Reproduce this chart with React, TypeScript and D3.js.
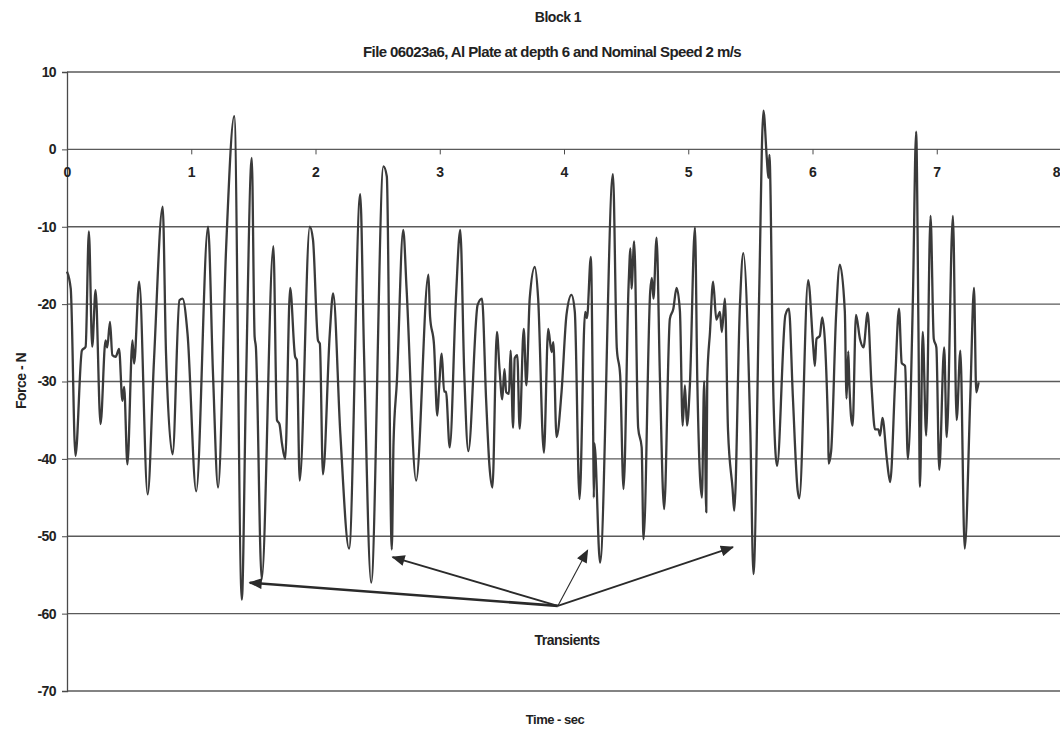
import React, { useEffect, useRef } from 'react';
import * as d3 from 'd3';

// force trace (time in s, force in N)
const times = [
  0.0, 0.03, 0.068, 0.12, 0.15, 0.176, 0.203, 0.23, 0.27, 0.31, 0.324, 0.346, 0.365, 0.392, 0.419,
  0.446, 0.46, 0.486, 0.527, 0.54, 0.581, 0.649, 0.7, 0.77, 0.797, 0.85, 0.905, 0.93, 0.97, 1.04,
  1.135, 1.175, 1.216, 1.28, 1.346, 1.407, 1.44, 1.487, 1.51, 1.52, 1.567, 1.661, 1.69, 1.71, 1.73,
  1.756, 1.796, 1.836, 1.85, 1.873, 1.954, 1.98, 2.02, 2.035, 2.06, 2.115, 2.142, 2.2, 2.27, 2.36,
  2.39, 2.448, 2.547, 2.574, 2.614, 2.628, 2.655, 2.706, 2.733, 2.81, 2.909, 2.922, 2.954, 2.98, 2.994,
  3.016, 3.035, 3.05, 3.08, 3.13, 3.165, 3.197, 3.23, 3.305, 3.34, 3.373, 3.4, 3.424, 3.46, 3.481,
  3.503, 3.521, 3.535, 3.557, 3.57, 3.59, 3.603, 3.624, 3.643, 3.676, 3.697, 3.724, 3.765, 3.792, 3.838,
  3.873, 3.9, 3.914, 3.94, 3.98, 4.02, 4.06, 4.087, 4.125, 4.17, 4.185, 4.216, 4.235, 4.24, 4.245,
  4.29, 4.394, 4.425, 4.452, 4.479, 4.52, 4.535, 4.543, 4.565, 4.597, 4.625, 4.64, 4.694, 4.707, 4.72,
  4.745, 4.772, 4.806, 4.852, 4.88, 4.906, 4.933, 4.955, 4.973, 4.99, 5.013, 5.054, 5.073, 5.11, 5.128,
  5.145, 5.153, 5.175, 5.2, 5.226, 5.255, 5.27, 5.295, 5.32, 5.357, 5.37, 5.416, 5.443, 5.5, 5.525,
  5.57, 5.605, 5.632, 5.645, 5.653, 5.686, 5.715, 5.782, 5.81, 5.842, 5.88, 5.894, 5.965, 6.005, 6.019,
  6.032, 6.059, 6.078, 6.126, 6.13, 6.15, 6.19, 6.22, 6.26, 6.274, 6.288, 6.296, 6.31, 6.323, 6.35,
  6.382, 6.41, 6.444, 6.476, 6.503, 6.53, 6.544, 6.563, 6.598, 6.625, 6.665, 6.696, 6.718, 6.745, 6.768,
  6.808, 6.834, 6.853, 6.865, 6.887, 6.915, 6.95, 6.976, 6.997, 7.02, 7.06, 7.08, 7.13, 7.16, 7.19,
  7.225, 7.27, 7.3, 7.318, 7.337,
];
const forces = [
  -15.8, -18, -39.6, -26, -25.5, -10.6, -25.5, -18.2, -35.5, -24.7, -25.6, -22.3, -26.6, -26.8, -25.8,
  -32.5, -30.7, -40.7, -24.7, -27.7, -17.1, -44.6, -27.3, -7.4, -26.4, -39.4, -19.5, -19.3, -23.8, -44.2,
  -10, -29, -43.7, -13, 4.3, -58.2, -31, -1.1, -24.2, -25.5, -55.6, -12.5, -35, -35.5, -38,
  -40, -17.9, -26.8, -27.2, -42.8, -10, -11.7, -24.7, -25.1, -42, -23.8, -18.6, -36.8, -51.6, -5.8,
  -26, -56, -2.2, -3.5, -51.7, -37.9, -30, -10.4, -18, -42.8, -16.2, -21.6, -25.3, -34.4, -31,
  -26.4, -31.3, -31.3, -38.5, -19.3, -10.4, -28.8, -39, -20.1, -19.3, -32.3, -40.9, -43.7, -23.6, -28.4,
  -32.3, -28.4, -31.4, -31.6, -26, -36, -27, -26.6, -36.1, -23.2, -30.5, -19.3, -15.2, -19.3, -39.2,
  -23.2, -26.2, -24.9, -37.2, -31.4, -21.4, -18.8, -21, -45.2, -21, -21.8, -13.9, -37, -45, -38,
  -53.4, -3.2, -25.7, -29.2, -43.9, -17.5, -12.8, -18, -11.9, -36, -38.5, -50.4, -18.3, -16.6, -19.3,
  -11.4, -29.5, -46.5, -21.9, -20.6, -17.9, -20.9, -35.7, -30.5, -35.7, -30.5, -10.1, -30, -45, -30,
  -46.9, -29.7, -23.6, -17.1, -22, -21, -23.6, -19.3, -36.3, -43.9, -46.7, -20.1, -13.4, -36.6, -54.9,
  -19.3, 5, -1.1, -3.7, -0.7, -32.3, -40.9, -21.4, -20.6, -32, -44, -45.1, -16.9, -25.3, -28,
  -24.5, -24.1, -21.7, -36.5, -40.6, -39, -21.4, -14.9, -20.9, -32.2, -26.1, -30, -34.5, -35.7, -21.4,
  -24.5, -25.6, -21.1, -30.8, -36.2, -36.2, -37, -34.7, -40, -43, -30, -20.6, -27.6, -28, -40,
  -19.3, 2.3, -23.6, -43.6, -23.6, -37, -8.6, -24.5, -25.6, -41.4, -25.6, -37.2, -8.6, -35, -26,
  -51.6, -32, -17.9, -31.4, -30.1,
];

const yTicks = [10, 0, -10, -20, -30, -40, -50, -60, -70];
const xTicks = [0, 1, 2, 3, 4, 5, 6, 7, 8];

// "Transients" annotation: arrow origin and the four arrow tips (data units)
const arrowFrom = { t: 3.95, f: -59.0 };
const arrowTips = [
  { t: 1.47, f: -56.0, w: 2.6 },
  { t: 2.62, f: -52.7, w: 1.8 },
  { t: 4.19, f: -51.8, w: 1.1 },
  { t: 5.36, f: -51.4, w: 1.8 },
];

const W = 1060, H = 732;
const FONT = '"Liberation Sans", Arial, sans-serif';

export default function App() {
  const ref = useRef<SVGSVGElement>(null);

  useEffect(() => {
    const svg = d3.select(ref.current);
    svg.selectAll('*').remove();

    const x = d3.scaleLinear().domain([0, 8]).range([67, 1061]);
    const y = d3.scaleLinear().domain([-70, 10]).range([691, 72]);

    // gridlines
    svg.append('g')
      .selectAll('line')
      .data(yTicks)
      .enter()
        .append('line')
        .attr('x1', x(0))
        .attr('x2', W + 5)
        .attr('y1', d => y(d))
        .attr('y2', d => y(d))
        .attr('stroke', '#5a5a5a')
        .attr('stroke-width', 1.3);

    // y axis
    const yAxis = d3.axisLeft(y).tickValues(yTicks).tickSize(5).tickPadding(6)
      .tickFormat(d => String(d));
    const gy = svg.append('g').attr('transform', `translate(${x(0)},0)`).call(yAxis);
    gy.select('.domain').attr('stroke', '#4a4a4a').attr('stroke-width', 1.3);
    gy.selectAll('line').attr('stroke', '#4a4a4a');
    gy.selectAll('text')
      .attr('font-family', FONT).attr('font-size', 14).attr('font-weight', 'bold')
      .attr('fill', '#222').attr('letter-spacing', -0.6);

    // x axis sits on the zero line
    const xAxis = d3.axisBottom(x).tickValues(xTicks).tickSize(5).tickPadding(13)
      .tickFormat(d => String(d));
    const gx = svg.append('g').attr('transform', `translate(0,${y(0)})`).call(xAxis);
    gx.select('.domain').remove();
    gx.selectAll('line').attr('stroke', '#4a4a4a');
    gx.selectAll('text')
      .attr('font-family', FONT).attr('font-size', 14).attr('font-weight', 'bold')
      .attr('fill', '#222');
    // last label runs into the page edge
    gx.selectAll('text').filter(d => d === 8)
      .attr('text-anchor', 'end')
      .attr('x', W - x(8));

    // the force trace
    const pts = times.map((t, i) => [t, forces[i]] as [number, number]);
    const line = d3.line<[number, number]>()
      .x(d => x(d[0]))
      .y(d => y(d[1]))
      .curve(d3.curveMonotoneX);
    svg.append('path')
      .attr('d', line(pts))
      .attr('fill', 'none')
      .attr('stroke', '#3a3a3a')
      .attr('stroke-width', 2.3)
      .attr('stroke-linejoin', 'round');

    // arrows
    const defs = svg.append('defs');
    defs.append('marker')
      .attr('id', 'head')
      .attr('viewBox', '0 0 12 10')
      .attr('refX', 11).attr('refY', 5)
      .attr('markerWidth', 14).attr('markerHeight', 11)
      .attr('markerUnits', 'userSpaceOnUse')
      .attr('orient', 'auto')
      .append('path').attr('d', 'M0,0 L12,5 L0,10 Z').attr('fill', '#2a2a2a');

    svg.append('g')
      .selectAll('line')
      .data(arrowTips)
      .enter()
        .append('line')
        .attr('x1', x(arrowFrom.t)).attr('y1', y(arrowFrom.f))
        .attr('x2', d => x(d.t)).attr('y2', d => y(d.f))
        .attr('stroke', '#2a2a2a')
        .attr('stroke-width', d => d.w)
        .attr('marker-end', 'url(#head)');

    svg.append('text')
      .attr('x', 567).attr('y', 645)
      .attr('text-anchor', 'middle')
      .attr('font-family', FONT).attr('font-size', 14).attr('font-weight', 'bold')
      .attr('letter-spacing', -0.5)
      .attr('fill', '#222')
      .text('Transients');

    // titles
    svg.append('text')
      .attr('x', 558).attr('y', 22)
      .attr('text-anchor', 'middle')
      .attr('font-family', FONT).attr('font-size', 14).attr('font-weight', 'bold')
      .attr('letter-spacing', -0.5)
      .attr('fill', '#222')
      .text('Block 1');
    svg.append('text')
      .attr('x', 552).attr('y', 57)
      .attr('text-anchor', 'middle')
      .attr('font-family', FONT).attr('font-size', 15).attr('font-weight', 'bold')
      .attr('letter-spacing', -0.6)
      .attr('fill', '#222')
      .text('File 06023a6, Al Plate at depth 6 and Nominal Speed 2 m/s');

    svg.append('text')
      .attr('x', 555).attr('y', 724)
      .attr('text-anchor', 'middle')
      .attr('font-family', FONT).attr('font-size', 13).attr('font-weight', 'bold')
      .attr('letter-spacing', -0.5)
      .attr('fill', '#222')
      .text('Time - sec');

    svg.append('text')
      .attr('transform', 'translate(26,381) rotate(-90)')
      .attr('text-anchor', 'middle')
      .attr('font-family', FONT).attr('font-size', 14).attr('font-weight', 'bold')
      .attr('letter-spacing', -0.5)
      .attr('fill', '#222')
      .text('Force - N');
  }, []);

  return (
    <svg
      ref={ref}
      width={W}
      height={H}
      style={{ position: 'absolute', left: 0, top: 0, background: '#fff' }}
    />
  );
}
